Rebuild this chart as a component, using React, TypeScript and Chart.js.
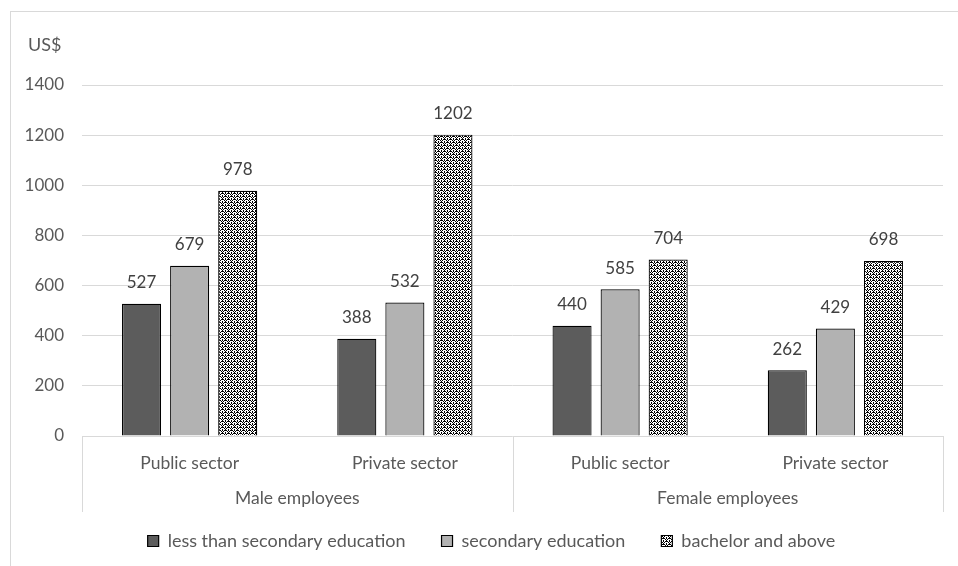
import React, { useEffect, useRef } from "react";
import { Chart, registerables } from "chart.js";

Chart.register(...registerables);

const categories = ["Public sector", "Private sector", "Public sector", "Private sector"];
const groups = ["Male employees", "Female employees"];
const seriesNames = ["less than secondary education", "secondary education", "bachelor and above"];
const lessThanSecondary = [527, 388, 440, 262];
const secondaryEdu = [679, 532, 585, 429];
const bachelorAbove = [978, 1202, 704, 698];
const yMin = 0;
const yMax = 1400;
const yStep = 200;
const unitLabel = "US$";

const FONT = "Lato, 'Open Sans', sans-serif";
const TEXT = "#595959";
const GRID = "#d9d9d9";

function makePattern(): CanvasPattern | string {
  const c = document.createElement("canvas");
  c.width = 6;
  c.height = 6;
  const g = c.getContext("2d");
  if (!g) return "#888";
  g.fillStyle = "#ffffff";
  g.fillRect(0, 0, 6, 6);
  g.fillStyle = "#000000";
  for (let y = 0; y < 6; y++) {
    for (let x = 0; x < 6; x++) {
      const a = (x + y) % 6 === 0 || (x - y + 6) % 6 === 0;
      const b = (x + y) % 6 === 3 && x % 3 === 0;
      const d = x % 3 === 0 && y % 3 === 1;
      if (a || b || d) g.fillRect(x, y, 1, 1);
    }
  }
  const p = g.createPattern(c, "repeat");
  return p || "#888";
}

export default function App() {
  const ref = useRef<HTMLCanvasElement | null>(null);

  useEffect(() => {
    const canvas = ref.current;
    if (!canvas) return;
    const pattern = makePattern();

    const decor = {
      id: "decor",
      afterLayout(chart: any) {
        const lg = chart.legend;
        if (lg) {
          lg.left += 10;
          lg.right += 10;
        }
      },
      beforeDraw(chart: any) {
        const ctx = chart.ctx;
        ctx.save();
        ctx.fillStyle = "#ffffff";
        ctx.fillRect(0, 0, chart.width, chart.height);
        ctx.strokeStyle = GRID;
        ctx.lineWidth = 1;
        ctx.strokeRect(10.5, 11.5, chart.width + 10, chart.height + 10);
        ctx.restore();
      },
      afterDraw(chart: any) {
        const ctx = chart.ctx;
        const xs = chart.scales.x;
        const area = chart.chartArea;
        ctx.save();
        const sepBottom = area.bottom + 76;
        const mid = (xs.getPixelForValue(1) + xs.getPixelForValue(2)) / 2;
        ctx.strokeStyle = GRID;
        ctx.lineWidth = 1;
        [xs.left, mid, xs.right].forEach((x: number) => {
          const px = Math.round(x) + 0.5;
          ctx.beginPath();
          ctx.moveTo(px, area.bottom);
          ctx.lineTo(px, sepBottom);
          ctx.stroke();
        });
        ctx.fillStyle = TEXT;
        ctx.font = `17.5px ${FONT}`;
        ctx.textAlign = "center";
        ctx.textBaseline = "middle";
        groups.forEach((gname, gi) => {
          const cx = (xs.getPixelForValue(gi * 2) + xs.getPixelForValue(gi * 2 + 1)) / 2;
          ctx.fillText(gname, cx, area.bottom + 62);
        });
        ctx.textAlign = "left";
        ctx.font = `18px ${FONT}`;
        ctx.fillText(unitLabel, 28, 45);
        ctx.textAlign = "center";
        ctx.font = `17px ${FONT}`;
        ctx.fillStyle = "#404040";
        chart.data.datasets.forEach((ds: any, di: number) => {
          const meta = chart.getDatasetMeta(di);
          meta.data.forEach((el: any, i: number) => {
            ctx.fillText(String(ds.data[i]), el.x, el.y - 21);
          });
        });
        ctx.restore();
      },
    };

    const chart = new Chart(canvas, {
      type: "bar",
      data: {
        labels: categories,
        datasets: [
          {
            label: seriesNames[0],
            data: lessThanSecondary,
            backgroundColor: "#5c5c5c",
            borderColor: "#000000",
            borderWidth: 1.2,
          },
          {
            label: seriesNames[1],
            data: secondaryEdu,
            backgroundColor: "#b2b2b2",
            borderColor: "#000000",
            borderWidth: 1.2,
          },
          {
            label: seriesNames[2],
            data: bachelorAbove,
            backgroundColor: pattern as any,
            borderColor: "#000000",
            borderWidth: 1.2,
          },
        ],
      },
      options: {
        responsive: false,
        animation: false,
        devicePixelRatio: 1,
        layout: { padding: { top: 85, right: 15, left: 20, bottom: 6 } },
        datasets: {
          bar: { categoryPercentage: 0.67, barPercentage: 0.8125 },
        },
        scales: {
          x: {
            grid: { display: false },
            border: { display: false },
            ticks: {
              color: TEXT,
              font: { family: FONT, size: 17.5 },
              padding: 9,
              maxRotation: 0,
              autoSkip: false,
            },
            afterFit(scale: any) {
              scale.height = 60;
            },
          },
          y: {
            min: yMin,
            max: yMax,
            grid: { color: GRID, drawTicks: false },
            border: { display: false },
            ticks: {
              stepSize: yStep,
              color: TEXT,
              font: { family: FONT, size: 17 },
              padding: 18,
              callback: (v: any) => String(v),
            },
            afterFit(scale: any) {
              scale.width = 62;
            },
          },
        },
        plugins: {
          legend: {
            position: "bottom",
            labels: {
              boxWidth: 11,
              boxHeight: 11,
              color: TEXT,
              font: { family: FONT, size: 18 },
              padding: 36,
            },
          },
          tooltip: { enabled: false },
          title: { display: false },
        },
      },
      plugins: [decor],
    });

    return () => chart.destroy();
  }, []);

  return (
    <div style={{ position: "fixed", left: 0, top: 0, width: 958, height: 566, background: "#fff" }}>
      <canvas ref={ref} width={958} height={566} style={{ display: "block" }} />
    </div>
  );
}
